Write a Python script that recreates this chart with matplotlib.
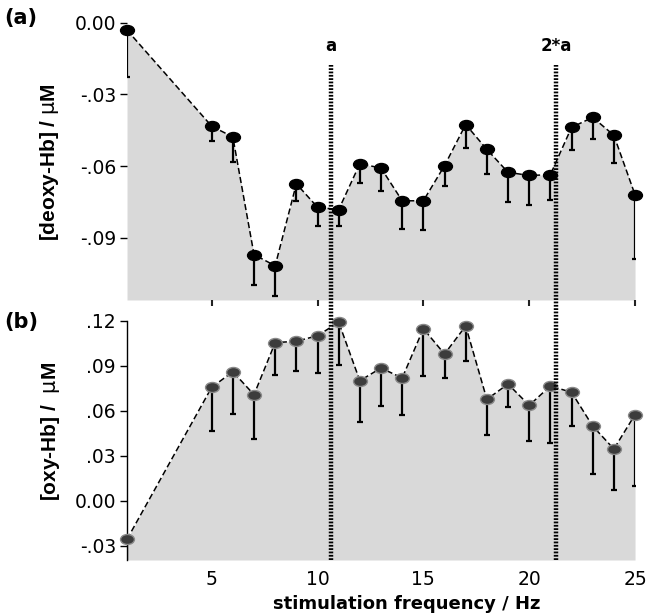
import numpy as np
import matplotlib
matplotlib.use("Agg")
import matplotlib.pyplot as plt
from matplotlib.path import Path
from matplotlib.transforms import Affine2D

freq = [1, 5, 6, 7, 8, 9, 10, 11, 12, 13, 14, 15, 16, 17, 18, 19, 20, 21, 22, 23, 24, 25]

deoxy = [-0.0031, -0.0433, -0.0478, -0.0970, -0.1017, -0.0674, -0.0772, -0.0782,
         -0.0590, -0.0608, -0.0745, -0.0745, -0.0598, -0.0426, -0.0530, -0.0626,
         -0.0639, -0.0636, -0.0438, -0.0396, -0.0471, -0.0720]
deoxy_low = [-0.0227, -0.0496, -0.0583, -0.1098, -0.1143, -0.0744, -0.0849, -0.0852,
             -0.0671, -0.0706, -0.0863, -0.0866, -0.0682, -0.0524, -0.0635, -0.0748,
             -0.0762, -0.0740, -0.0531, -0.0485, -0.0586, -0.0989]

oxy = [-0.0257, 0.0756, 0.0860, 0.0707, 0.1054, 0.1063, 0.1100, 0.1190,
       0.0800, 0.0885, 0.0818, 0.1147, 0.0978, 0.1165, 0.0676, 0.0778,
       0.0636, 0.0765, 0.0723, 0.0498, 0.0345, 0.0574]
oxy_low = [-0.045, 0.0465, 0.0578, 0.0409, 0.0838, 0.0865, 0.0854, 0.0905,
           0.0527, 0.0631, 0.0571, 0.0832, 0.0820, 0.0932, 0.0438, 0.0627,
           0.0398, 0.0387, 0.0498, 0.0178, 0.0071, 0.0098]

a_freq = 10.63
top_ticks = [0.0, -0.03, -0.06, -0.09]
top_labels = ["0.00", "-.03", "-.06", "-.09"]
bot_ticks = [0.12, 0.09, 0.06, 0.03, 0.0, -0.03]
bot_labels = [".12", ".09", ".06", ".03", "0.00", "-.03"]
x_ticks = [5, 10, 15, 20, 25]

plt.rcParams["font.family"] = ["DejaVu Sans"]

ellipse = Path.unit_circle().transformed(Affine2D().scale(1.0, 0.72))
fill_col = "#d9d9d9"

fig = plt.figure(figsize=(6.48, 6.15), dpi=100)
ax1 = fig.add_axes([0.196, 0.5122, 0.784, 0.4509])
ax2 = fig.add_axes([0.196, 0.0894, 0.784, 0.3891])

x = np.array(freq)

def panel(ax, y, low, ylim, mfc, mec):
    y = np.array(y)
    low = np.array(low)
    ax.fill_between(x, y, ylim[0], color=fill_col, lw=0, zorder=1)
    ax.plot(x, y, color="black", lw=1.1, ls=(0, (4, 2)), zorder=3)
    ax.errorbar(x, y, yerr=[y - low, np.zeros_like(y)], fmt="none",
                ecolor="black", elinewidth=1.6, capsize=2.2, capthick=1.6, zorder=4)
    ax.plot(x, y, ls="none", marker=ellipse, markersize=10, mfc=mfc, mec=mec,
            mew=1.0, zorder=5, clip_on=False)
    ax.set_xlim(1, 25)
    ax.set_ylim(*ylim)
    for s in ["top", "right", "bottom"]:
        ax.spines[s].set_visible(False)

panel(ax1, deoxy, deoxy_low, (-0.116, 0.0), "black", "black")
panel(ax2, oxy, oxy_low, (-0.0395, 0.12), "#3c3c3c", "#8a8a8a")

ax1.spines["left"].set_visible(False)
ax1.set_yticks(top_ticks)
ax1.set_yticklabels(top_labels)
ax1.set_xticks(x_ticks)
ax1.set_xticklabels([])
ax1.tick_params(axis="x", direction="out", length=4, width=1.5, color="#222222")
ax1.tick_params(axis="y", length=5, width=1, labelsize=13.5, pad=3)

ax2.spines["left"].set_linewidth(1)
ax2.set_yticks(bot_ticks)
ax2.set_yticklabels(bot_labels)
ax2.set_xticks(x_ticks)
ax2.tick_params(axis="x", length=0, labelsize=13.5, pad=7)
ax2.tick_params(axis="y", length=5, width=1, labelsize=13.5, pad=3)

# vertical markers at a and 2*a
for f in [a_freq, 2 * a_freq]:
    ax1.axvline(f, ymin=0, ymax=0.847, color="black", lw=3.2,
                ls=(0, (0.4, 0.35)), zorder=6)
    ax2.axvline(f, ymin=0, ymax=1.086, color="black", lw=3.2,
                ls=(0, (0.4, 0.35)), zorder=6, clip_on=False)
    ax1.text(f, 0.916, "a" if f == a_freq else "2*a",
             transform=ax1.get_xaxis_transform(), ha="center", va="center",
             fontsize=12, fontweight="bold")

fig.text(0.006, 0.97, "(a)", fontsize=15, fontweight="bold", va="center")
fig.text(0.006, 0.476, "(b)", fontsize=15, fontweight="bold", va="center")
fig.text(0.076, 0.737, r"[deoxy-Hb] / $\mathrm{\mu}$M", rotation=90, fontsize=15,
         family="Liberation Sans", fontweight="bold", ha="center", va="center")
fig.text(0.078, 0.298, r"[oxy-Hb] /  $\mathrm{\mu}$M", rotation=90, fontsize=15,
         family="Liberation Sans", fontweight="bold", ha="center", va="center")
fig.text(0.627, 0.018, "stimulation frequency / Hz", fontsize=13,
         fontweight="bold", ha="center", va="center")

fig.savefig("out.png", dpi=100)
